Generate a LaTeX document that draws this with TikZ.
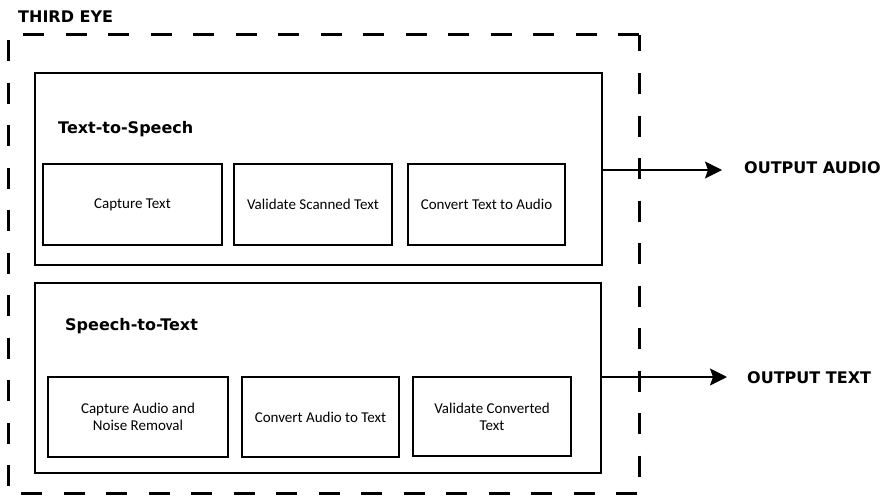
\documentclass[tikz,border=0pt]{standalone}
\usepackage{fontspec}
\setmainfont{Carlito}
\newfontfamily\headfont{DejaVu Sans}
\usetikzlibrary{arrows.meta}

\tikzset{
  container/.style={inner sep=0pt, outer sep=0pt},
  boundary/.style={dash pattern=on 21pt off 21.5pt, line width=3pt},
  groupbox/.style={draw, line width=2.6pt, inner sep=0pt},
  taskbox/.style={draw, line width=2.6pt, inner sep=0pt, align=center,
    font=\fontsize{15}{17}\selectfont},
  heading/.style={inner sep=0pt, anchor=base west,
    font=\headfont\bfseries\fontsize{16}{19}\selectfont},
  flow/.style={-{Stealth[length=17pt,width=17pt,inset=3pt]}, line width=2pt},
}

\begin{document}
\begin{tikzpicture}[x=1pt,y=-1pt]
  \useasboundingbox (0,0) rectangle (890,495);

  % system boundary, each side dashed on its own
  \node[container, minimum width=631pt, minimum height=458pt] (system) at (323.5,264) {};
  \draw[boundary, dash phase=27.2pt] (system.north west) -- (system.north east);
  \draw[boundary, dash phase=4.5pt]  (system.north east) -- (system.south east);
  \draw[boundary, dash phase=37.5pt] (system.north west) -- (system.south west);
  \draw[boundary, dash phase=29.5pt] (system.south west) -- (system.south east);
  \node[heading] (title) at (18,22.5) {THIRD EYE};

  % text-to-speech module
  \node[groupbox, minimum width=567pt, minimum height=192pt] (tts) at (318.5,169) {};
  \node[heading] (ttslabel) at (58,133) {Text-to-Speech};
  \node[taskbox, minimum width=179pt, minimum height=81pt] (capturetext) at (132.5,204.5) {Capture Text};
  \node[taskbox, minimum width=158pt, minimum height=81pt] (validatescan) at (313,204.5) {Validate Scanned Text};
  \node[taskbox, minimum width=157pt, minimum height=81pt] (texttoaudio) at (486.5,204.5) {Convert Text to Audio};

  % speech-to-text module
  \node[groupbox, minimum width=566pt, minimum height=190pt] (stt) at (318,378) {};
  \node[heading] (sttlabel) at (65,330) {Speech-to-Text};
  \node[taskbox, minimum width=180pt, minimum height=80pt] (captureaudio) at (138,417) {Capture Audio and\\Noise Removal};
  \node[taskbox, minimum width=157pt, minimum height=80pt] (audiototext) at (320.5,417) {Convert Audio to Text};
  \node[taskbox, minimum width=158pt, minimum height=79pt] (validateconv) at (492,416.5) {Validate Converted\\Text};

  % outputs
  \node[heading] (outaudio) at (744,173) {OUTPUT AUDIO};
  \node[heading] (outtext) at (747,383) {OUTPUT TEXT};

  \draw[flow, shorten >=22pt] ([yshift=-1pt]tts.east) -- ([yshift=-1pt]tts.east -| outaudio.west);
  \draw[flow, shorten >=20pt] ([yshift=1pt]stt.east) -- ([yshift=1pt]stt.east -| outtext.west);
\end{tikzpicture}
\end{document}
